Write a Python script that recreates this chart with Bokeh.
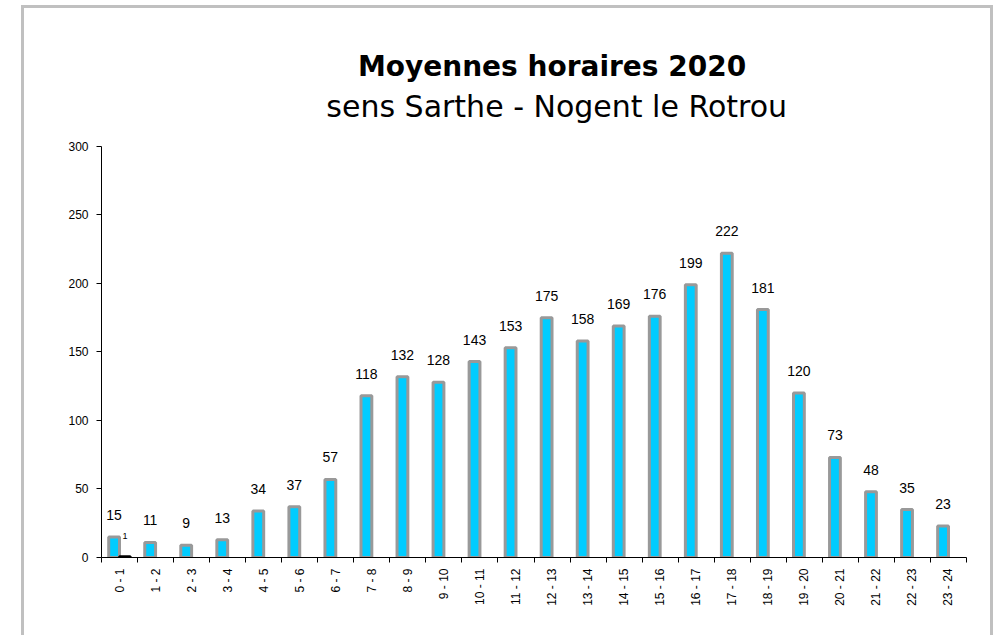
import math
from bokeh.plotting import figure
from bokeh.models import FixedTicker, LabelSet, Label, ColumnDataSource
from bokeh.core.properties import value
from bokeh.embed import file_html
from bokeh.resources import INLINE

# ---- data ----
hours = ["0 - 1", "1 - 2", "2 - 3", "3 - 4", "4 - 5", "5 - 6", "6 - 7", "7 - 8",
         "8 - 9", "9 - 10", "10 - 11", "11 - 12", "12 - 13", "13 - 14", "14 - 15",
         "15 - 16", "16 - 17", "17 - 18", "18 - 19", "19 - 20", "20 - 21",
         "21 - 22", "22 - 23", "23 - 24"]
moyennes = [15, 11, 9, 13, 34, 37, 57, 118, 132, 128, 143, 153, 175, 158, 169,
            176, 199, 222, 181, 120, 73, 48, 35, 23]
serie2 = [1] + [None] * 23
y_ticks = [0, 50, 100, 150, 200, 250, 300]
title1 = "Moyennes horaires 2020"
title2 = "sens Sarthe - Nogent le Rotrou"

BAR_W = 0.3
n = len(hours)
centers = [i + 0.5 for i in range(n)]
Y_AXIS_MAX = 300
Y_VIEW_MAX = 400.7  # extra room above the axis for the titles

p = figure(width=972, height=630, x_range=(0, n), y_range=(0, Y_VIEW_MAX),
           output_backend="svg", toolbar_location=None,
           min_border_left=77, min_border_right=30, min_border_top=0,
           min_border_bottom=81)
p.styles = {"border": "3px solid #c0c0c0", "border-bottom": "none",
            "margin-left": "21px", "margin-top": "5px"}
p.outline_line_color = None
p.xgrid.visible = False
p.ygrid.visible = False
p.background_fill_color = "white"
p.border_fill_color = "white"

# main series
src1 = ColumnDataSource(dict(x=[c - BAR_W / 2 for c in centers], top=moyennes,
                             text=[str(v) for v in moyennes]))
p.vbar(x="x", top="top", width=BAR_W, source=src1, fill_color="#00CCFF",
       line_color="#999999", line_width=3)
p.add_layout(LabelSet(x="x", y="top", text="text", source=src1,
                      text_align="center", text_baseline="alphabetic",
                      y_offset=17, text_font=value("Liberation Sans"),
                      text_font_size="14px", text_color="black"))

# second series
idx2 = [i for i, v in enumerate(serie2) if v is not None]
src2 = ColumnDataSource(dict(x=[centers[i] + BAR_W / 2 for i in idx2],
                             top=[serie2[i] for i in idx2],
                             text=[str(serie2[i]) for i in idx2]))
p.vbar(x="x", top="top", width=BAR_W, source=src2, fill_color="black",
       line_color="black", line_width=2)
p.add_layout(LabelSet(x="x", y="top", text="text", source=src2,
                      text_align="center", text_baseline="alphabetic",
                      y_offset=17, text_font=value("Liberation Sans"),
                      text_font_size="9px", text_color="black"))

# x axis
xa = p.xaxis[0]
xa.ticker = FixedTicker(ticks=centers, minor_ticks=list(range(n + 1)))
xa.major_label_overrides = {c: h for c, h in zip(centers, hours)}
xa.major_label_orientation = math.pi / 2
xa.major_tick_line_color = None
xa.major_tick_out = 0
xa.major_tick_in = 0
xa.minor_tick_line_color = "black"
xa.minor_tick_out = 5
xa.minor_tick_in = 0
xa.major_label_standoff = 6
xa.major_label_text_font = "Liberation Sans"
xa.major_label_text_font_size = "12px"
xa.major_label_text_color = "black"
xa.axis_line_color = "black"

# y axis
ya = p.yaxis[0]
ya.ticker = FixedTicker(ticks=y_ticks)
ya.bounds = (0, Y_AXIS_MAX)
ya.major_tick_out = 5
ya.major_tick_in = 0
ya.minor_tick_line_color = None
ya.major_label_standoff = 8
ya.major_label_text_font = "Liberation Sans"
ya.major_label_text_font_size = "12px"
ya.major_label_text_color = "black"
ya.axis_line_color = "black"
ya.major_tick_line_color = "black"

# titles
p.add_layout(Label(x=12.5, y=358.4, text=title1, text_align="center",
                   text_baseline="alphabetic", text_font="DejaVu Sans",
                   text_font_style="bold", text_font_size="28px",
                   text_color="black"))
p.add_layout(Label(x=12.63, y=329.2, text=title2, text_align="center",
                   text_baseline="alphabetic", text_font="DejaVu Sans",
                   text_font_size="30px", text_color="black"))

open("out.html", "w").write(file_html(p, INLINE))
